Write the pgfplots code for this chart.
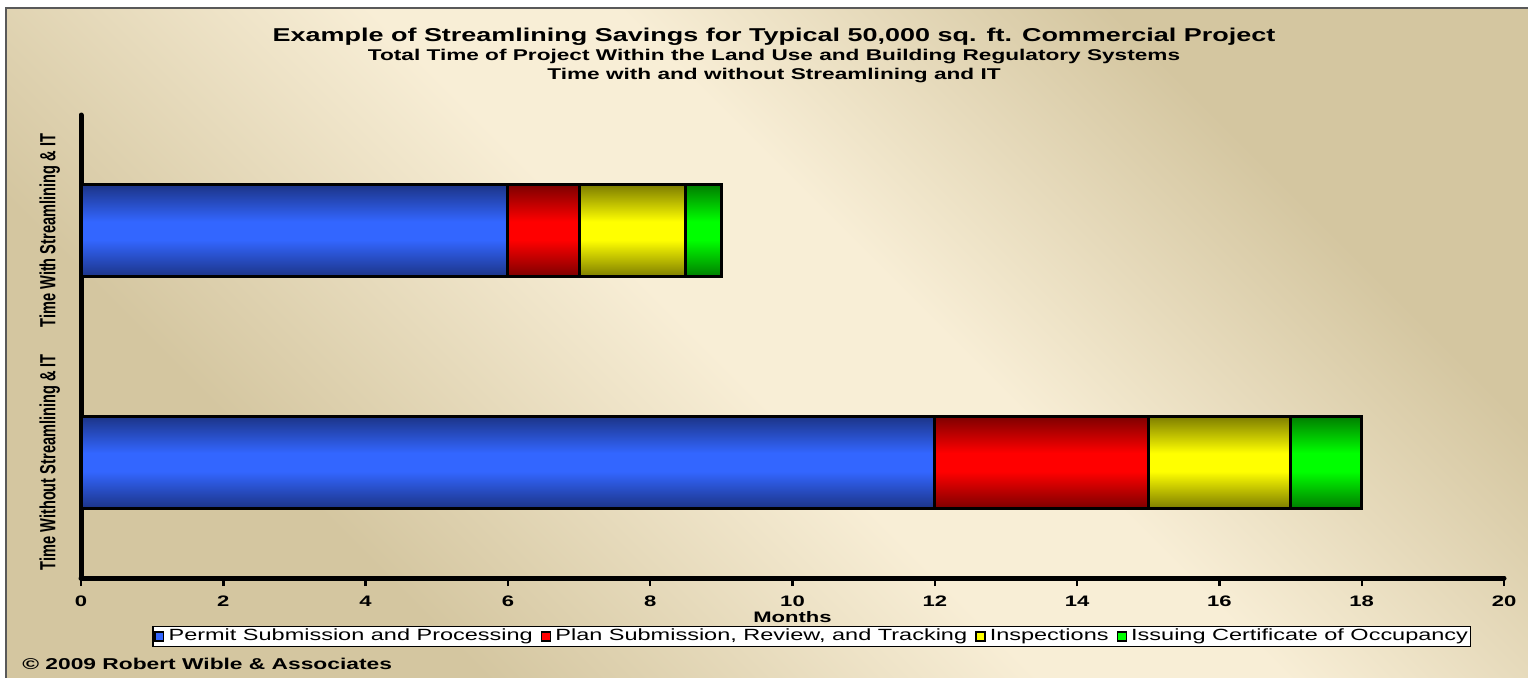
\documentclass[border=0pt]{standalone}
\usepackage{fontspec}
\setmainfont[FakeStretch=1.45]{Liberation Sans}
\newfontfamily\plainfont{Liberation Sans}
\usepackage{pgfplots}
\pgfplotsset{compat=1.18}
\usetikzlibrary{shadings}
\definecolor{cream}{RGB}{248,238,214}
\definecolor{tanc}{RGB}{212,198,160}
\definecolor{permitblue}{RGB}{51,102,255}
\definecolor{planred}{RGB}{255,0,0}
\definecolor{inspyellow}{RGB}{255,255,0}
\definecolor{issuegreen}{RGB}{0,255,0}
\definecolor{permitdark}{RGB}{28,52,135}
\definecolor{planreddark}{RGB}{125,0,0}
\definecolor{inspdark}{RGB}{125,125,0}
\definecolor{issuedark}{RGB}{0,125,0}
\pgfdeclarehorizontalshading{bgsh}{100bp}{color(0bp)=(tanc); color(30bp)=(tanc); color(48bp)=(cream); color(56bp)=(cream); color(72bp)=(tanc); color(100bp)=(tanc)}
% vertical shading covering both bars of a plot (rows at y=0 and y=1)
\newcommand\barshading[3]{\pgfdeclareverticalshading{#1}{100bp}{color(0bp)=(#3); color(25bp)=(#3); color(30.69bp)=(#2); color(33.53bp)=(#2); color(39.22bp)=(#3); color(60.78bp)=(#3); color(66.47bp)=(#2); color(69.31bp)=(#2); color(75bp)=(#3); color(100bp)=(#3)}}
\barshading{shblue}{permitblue}{permitdark}
\barshading{shred}{planred}{planreddark}
\barshading{shyellow}{inspyellow}{inspdark}
\barshading{shgreen}{issuegreen}{issuedark}
\begin{document}
\begin{tikzpicture}
% background
\fill[white] (0,0) rectangle (764pt,-339pt);
\shade[shading=bgsh, shading angle=45] (3pt,-4pt) rectangle (764pt,-339pt);
\draw[black!65, line width=1pt] (3pt,-339pt) -- (3pt,-4pt) -- (764pt,-4pt);
% titles
\node[font=\bfseries\fontsize{9.3}{11}\selectfont] at (387pt,-18.5pt) {Example of Streamlining Savings for Typical 50,000 sq. ft. Commercial Project};
\node[font=\bfseries\fontsize{7.8}{9}\selectfont] at (387pt,-28.5pt) {Total Time of Project Within the Land Use and Building Regulatory Systems};
\node[font=\bfseries\fontsize{7.8}{9}\selectfont] at (387pt,-38pt) {Time with and without Streamlining and IT};
\node[anchor=west, font=\bfseries\fontsize{7.85}{9}\selectfont, inner sep=0pt] at (11pt,-332pt) {\textcopyright{} 2009 Robert Wible \& Associates};
\begin{axis}[
  at={(40.5pt,-289pt)}, anchor=south west,
  scale only axis, width=711.5pt, height=231.5pt,
  xbar stacked, bar width=46pt,
  xmin=0, xmax=20, ymin=-0.5, ymax=1.5,
  xtick={0,2,...,20},
  ytick={0,1},
  yticklabels={{\scalebox{1}[1.5]{\plainfont\bfseries\fontsize{7.3}{9}\selectfont Time Without Streamlining \& IT}},
               {\scalebox{1}[1.5]{\plainfont\bfseries\fontsize{7.3}{9}\selectfont Time With Streamlining \& IT}}},
  yticklabel style={rotate=90, anchor=south},
  yticklabel shift=3pt,
  ytick style={draw=none},
  axis x line*=bottom, axis y line*=left,
  axis line style={line width=2.5pt, black, -, line cap=round},
  xtick style={line width=1.2pt, black},
  tick align=outside, major tick length=4pt,
  /pgf/number format/assume math mode=true,
  xticklabel style={font=\bfseries\fontsize{7.6}{9}\selectfont},
  xticklabel shift=1.5pt,
  xlabel={Months},
  xlabel style={font=\bfseries\fontsize{7.6}{9}\selectfont, at={(axis description cs:0.5,0)}, anchor=north, yshift=-16.3pt, inner sep=0pt},
  legend style={at={(axis description cs:0.5135,-0.1264)}, anchor=center, legend columns=4, draw=black, line width=0.6pt, fill=white, font=\fontsize{8.1}{9}\selectfont, inner sep=0.6pt, nodes={inner sep=0.6pt}, /tikz/every odd column/.append style={column sep=1.5pt}, /tikz/every even column/.append style={column sep=3.5pt}},
  legend image code/.code={\draw[#1, draw=black, line width=0.7pt] (0pt,-2.2pt) rectangle (4.4pt,2.2pt);},
]
\addlegendimage{fill=permitblue}
\addlegendentry{Permit Submission and Processing}
\addlegendimage{fill=planred}
\addlegendentry{Plan Submission, Review, and Tracking}
\addlegendimage{fill=inspyellow}
\addlegendentry{Inspections}
\addlegendimage{fill=issuegreen}
\addlegendentry{Issuing Certificate of Occupancy}

\addplot[forget plot, draw=black, line width=1.5pt, shade, shading=shblue, shading angle=0]
  coordinates {(12,0) (6,1)};
\addplot[forget plot, draw=black, line width=1.5pt, shade, shading=shred, shading angle=0]
  coordinates {(3,0) (1,1)};
\addplot[forget plot, draw=black, line width=1.5pt, shade, shading=shyellow, shading angle=0]
  coordinates {(2,0) (1.5,1)};
\addplot[forget plot, draw=black, line width=1.5pt, shade, shading=shgreen, shading angle=0]
  coordinates {(1,0) (0.5,1)};
\end{axis}
\pgfresetboundingbox
\useasboundingbox (0,0) rectangle (764pt,-339pt);
\end{tikzpicture}
\end{document}
